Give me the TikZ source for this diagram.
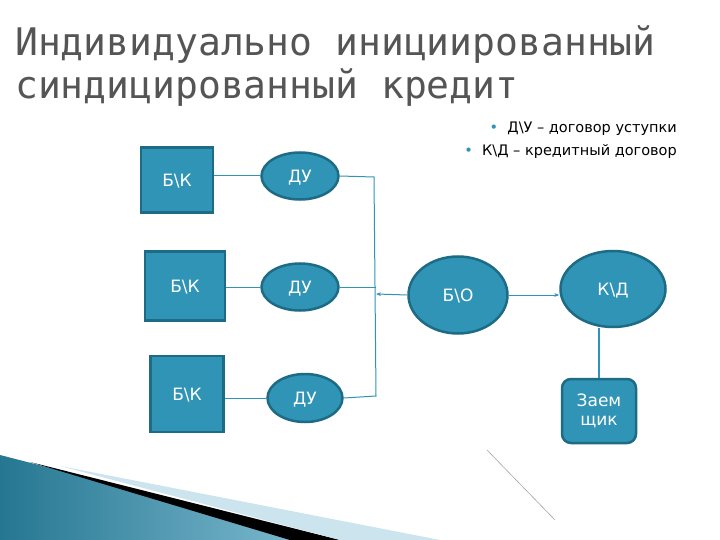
\documentclass[tikz,border=0pt]{standalone}
\usepackage{fontspec}
\setmainfont{DejaVu Sans}
\newfontfamily\titlefont{DejaVu Sans Mono}
\usetikzlibrary{shapes.geometric,arrows.meta}
\definecolor{fillc}{HTML}{2F94B6}
\definecolor{edgec}{HTML}{1E6B85}
\definecolor{titlec}{HTML}{555555}
\tikzset{
 bk/.style={draw=edgec,line width=2.5pt,fill=fillc,text=white,font=\fontsize{17}{19}\selectfont},
 ell/.style={ellipse,draw=edgec,line width=2.5pt,fill=fillc,text=white,inner sep=0pt,text depth=0pt,font=\fontsize{17}{19}\selectfont},
 conn/.style={draw=fillc,line width=1pt},
 ttl/.style={anchor=west,text=titlec,font=\titlefont\fontsize{38}{40}\selectfont,inner sep=0pt},
 leg/.style={anchor=east,font=\fontsize{14.5}{16}\selectfont,inner sep=0pt},
}
\begin{document}
\begin{tikzpicture}[x=1pt,y=-1pt]
\useasboundingbox (0,0) rectangle (720,540);
\fill[white] (0,0) rectangle (720,540);
% decoration
\shade[left color=fillc!80!black,right color=fillc!60!white] (0,455) -- (330,540) -- (0,540) -- cycle;
\fill[black] (30,462) -- (340,540) -- (290,540) -- cycle;
\fill[fillc!25!white] (60,466) -- (440,540) -- (340,540) -- cycle;
\coordinate (g1) at (487,450); \coordinate (g2) at (555,520);
\draw[gray!70,line width=0.6pt] (g1) -- (g2);
% title
\node[ttl] (t1) at (15,45) {Индивидуально инициированный};
\node[ttl] (t2) at (15,88) {синдицированный кредит};
% legend
\node[leg] (l1) at (677,129) {{\color{fillc}\textbullet}\ \ Д\textbackslash У – договор уступки};
\node[leg] (l2) at (677,152) {{\color{fillc}\textbullet}\ \ К\textbackslash Д – кредитный договор};
% boxes
\node[bk,text depth=0pt,minimum width=72pt,minimum height=65pt] (b1) at (177,180) {Б\textbackslash К};
\node[bk,text depth=0pt,minimum width=80pt,minimum height=69pt] (b2) at (185,286) {Б\textbackslash К};
\node[bk,text depth=0pt,minimum width=73pt,minimum height=76pt] (b3) at (187,394) {Б\textbackslash К};
\node[ell,minimum width=77pt,minimum height=47pt] (d1) at (300,176) {ДУ};
\node[ell,minimum width=77pt,minimum height=47pt] (d2) at (300,287) {ДУ};
\node[ell,minimum width=75pt,minimum height=48pt] (d3) at (305,398) {ДУ};
\node[ell,minimum width=99pt,minimum height=77pt] (bo) at (458,295) {Б\textbackslash О};
\node[ell,minimum width=105pt,minimum height=76pt] (kd) at (613,289) {К\textbackslash Д};
\node[bk,rounded corners=9pt,minimum width=74pt,minimum height=64pt,align=center] (z) at (599,411) {Заем\\щик};
\coordinate (v1) at (374,177); \coordinate (v2) at (376,294); \coordinate (v3) at (376,396);
\draw[conn] (b1.east|-d1) -- (d1.west); \draw[conn] (b2.east|-d2) -- (d2.west); \draw[conn] (b3.east|-d3) -- (d3.west);
\draw[conn] (d1.east) -- (v1) -- (v3) -- (d3.east);
\draw[conn] (d2.east) -- (d2.east-|v2);
\draw[conn,-{Stealth[length=5pt]}] (bo.west) -- (v2);
\draw[conn,-{Stealth[length=5pt]}] (bo.east) -- (bo.east-|kd.west);
\draw[conn,line width=2pt] (kd.south-|z) -- (z.north);
\end{tikzpicture}
\end{document}
